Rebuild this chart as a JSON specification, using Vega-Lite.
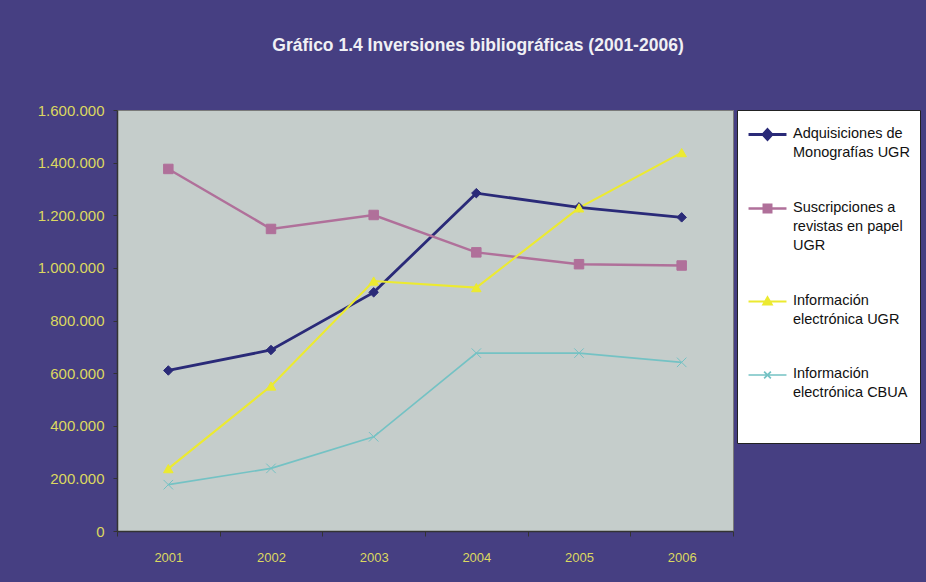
{
  "$schema": "https://vega.github.io/schema/vega-lite/v6.json",
  "width": 616,
  "height": 421,
  "autosize": {"type": "none"},
  "padding": {"left": 117, "top": 110, "right": 193, "bottom": 51},
  "background": "#463f82",
  "config": {
    "locale": {"number": {"decimal": ",", "thousands": ".", "grouping": [3], "currency": ["", " €"]}},
    "view": {"fill": "#c5cdcb", "stroke": "#7a7a7a", "strokeWidth": 1},
    "font": "Liberation Sans"
  },
  "title": {
    "text": "Gráfico 1.4 Inversiones bibliográficas (2001-2006)",
    "color": "#f0f0f4",
    "fontSize": 17.5,
    "fontWeight": "bold",
    "font": "Liberation Sans",
    "anchor": "middle",
    "frame": "group",
    "dx": 53,
    "offset": 49
  },
  "data": {
    "values": [
      {"year": "2001", "series": "Adquisiciones de Monografías UGR", "value": 610000},
      {"year": "2002", "series": "Adquisiciones de Monografías UGR", "value": 688000},
      {"year": "2003", "series": "Adquisiciones de Monografías UGR", "value": 907000},
      {"year": "2004", "series": "Adquisiciones de Monografías UGR", "value": 1284000},
      {"year": "2005", "series": "Adquisiciones de Monografías UGR", "value": 1230000},
      {"year": "2006", "series": "Adquisiciones de Monografías UGR", "value": 1192000},
      {"year": "2001", "series": "Suscripciones a revistas en papel UGR", "value": 1376000},
      {"year": "2002", "series": "Suscripciones a revistas en papel UGR", "value": 1148000},
      {"year": "2003", "series": "Suscripciones a revistas en papel UGR", "value": 1201000},
      {"year": "2004", "series": "Suscripciones a revistas en papel UGR", "value": 1059000},
      {"year": "2005", "series": "Suscripciones a revistas en papel UGR", "value": 1014000},
      {"year": "2006", "series": "Suscripciones a revistas en papel UGR", "value": 1009000},
      {"year": "2001", "series": "Información electrónica UGR", "value": 237000},
      {"year": "2002", "series": "Información electrónica UGR", "value": 551000},
      {"year": "2003", "series": "Información electrónica UGR", "value": 950000},
      {"year": "2004", "series": "Información electrónica UGR", "value": 925000},
      {"year": "2005", "series": "Información electrónica UGR", "value": 1228000},
      {"year": "2006", "series": "Información electrónica UGR", "value": 1438000},
      {"year": "2001", "series": "Información electrónica CBUA", "value": 176000},
      {"year": "2002", "series": "Información electrónica CBUA", "value": 238000},
      {"year": "2003", "series": "Información electrónica CBUA", "value": 358000},
      {"year": "2004", "series": "Información electrónica CBUA", "value": 676000},
      {"year": "2005", "series": "Información electrónica CBUA", "value": 676000},
      {"year": "2006", "series": "Información electrónica CBUA", "value": 641000}
    ]
  },
  "encoding": {
    "x": {
      "field": "year",
      "type": "ordinal",
      "scale": {"type": "band", "paddingInner": 0, "paddingOuter": 0},
      "axis": {
        "title": null,
        "labelAngle": 0,
        "tickBand": "extent",
        "labelColor": "#dcd860",
        "labelFontSize": 13,
        "labelFont": "Liberation Sans",
        "tickColor": "#333333",
        "domainColor": "#333333",
        "domainWidth": 1.5,
        "tickSize": 5,
        "labelPadding": 15,
        "grid": false
      }
    },
    "y": {
      "field": "value",
      "type": "quantitative",
      "scale": {"domain": [0, 1600000], "nice": false},
      "axis": {
        "title": null,
        "values": [0, 200000, 400000, 600000, 800000, 1000000, 1200000, 1400000, 1600000],
        "format": ",d",
        "labelColor": "#dcd860",
        "labelFontSize": 15,
        "labelFont": "Liberation Sans",
        "tickColor": "#333333",
        "domainColor": "#333333",
        "domainWidth": 1.5,
        "tickSize": 4,
        "labelPadding": 9,
        "grid": false
      }
    }
  },
  "layer": [
    {
      "mark": {"type": "line"},
      "encoding": {
        "color": {
          "field": "series",
          "type": "nominal",
          "scale": {
            "domain": ["Adquisiciones de Monografías UGR", "Suscripciones a revistas en papel UGR", "Información electrónica UGR", "Información electrónica CBUA"],
            "range": ["#2a2a78", "#b0709a", "#ecea30", "#74c2c4"]
          },
          "legend": {
            "orient": "none",
            "legendX": 620,
            "legendY": 0,
            "title": " ",
            "titleOrient": "bottom",
            "titleFontSize": 10,
            "titlePadding": 23,
            "fillColor": "#ffffff",
            "strokeColor": "#222222",
            "padding": 10,
            "labelFont": "Liberation Sans",
            "labelFontSize": 14.5,
            "labelColor": "#111111",
            "labelBaseline": "top",
            "labelLimit": 250,
            "labelOffset": 11,
            "symbolOffset": 6,
            "symbolSize": 676,
            "rowPadding": 35,
            "labelExpr": "datum.label == 'Adquisiciones de Monografías UGR' ? ['Adquisiciones de', 'Monografías UGR'] : datum.label == 'Suscripciones a revistas en papel UGR' ? ['Suscripciones a', 'revistas en papel', 'UGR'] : datum.label == 'Información electrónica UGR' ? ['Información', 'electrónica UGR'] : ['Información', 'electrónica CBUA']",
            "encode": {
              "labels": {"update": {"dy": {"value": -8}, "lineHeight": {"value": 19}}},
              "symbols": {
                "update": {
                  "shape": {"signal": "datum.value == 'Adquisiciones de Monografías UGR' ? 'M-1.46,0L1.46,0M0,-0.38L0.34,0L0,0.38L-0.34,0Z' : datum.value == 'Suscripciones a revistas en papel UGR' ? 'M-1.46,0L1.46,0M-0.29,-0.29L0.29,-0.29L0.29,0.29L-0.29,0.29Z' : datum.value == 'Información electrónica UGR' ? 'M-1.46,0L1.46,0M-0.32,0.23L0,-0.32L0.32,0.23Z' : 'M-1.46,0L1.46,0M-0.26,-0.26L0.26,0.26M-0.26,0.26L0.26,-0.26'"},
                  "fill": {"scale": "color", "field": "value"},
                  "stroke": {"scale": "color", "field": "value"},
                  "strokeWidth": {"signal": "datum.value == 'Adquisiciones de Monografías UGR' ? 2 : 1.3"},
                  "opacity": {"value": 1}
                }
              }
            }
          }
        },
        "strokeWidth": {
          "field": "series",
          "type": "nominal",
          "scale": {
            "domain": ["Adquisiciones de Monografías UGR", "Suscripciones a revistas en papel UGR", "Información electrónica UGR", "Información electrónica CBUA"],
            "range": [2.8, 1.7, 1.7, 1.3]
          },
          "legend": null
        }
      }
    },
    {
      "mark": {"type": "point", "filled": true, "size": 90, "strokeWidth": 1, "opacity": 1},
      "encoding": {
        "color": {"field": "series", "type": "nominal", "legend": null},
        "stroke": {
          "field": "series",
          "type": "nominal",
          "scale": {
            "domain": ["Adquisiciones de Monografías UGR", "Suscripciones a revistas en papel UGR", "Información electrónica UGR", "Información electrónica CBUA"],
            "range": ["#2a2a78", "#b0709a", "#ecea30", "#74c2c4"]
          },
          "legend": null
        },
        "shape": {
          "condition": [
            {"test": "datum.series == 'Adquisiciones de Monografías UGR'", "value": "diamond"},
            {"test": "datum.series == 'Suscripciones a revistas en papel UGR'", "value": "square"},
            {"test": "datum.series == 'Información electrónica UGR'", "value": "triangle-up"}
          ],
          "value": "M-1,-1L1,1M-1,1L1,-1"
        }
      }
    }
  ]
}
